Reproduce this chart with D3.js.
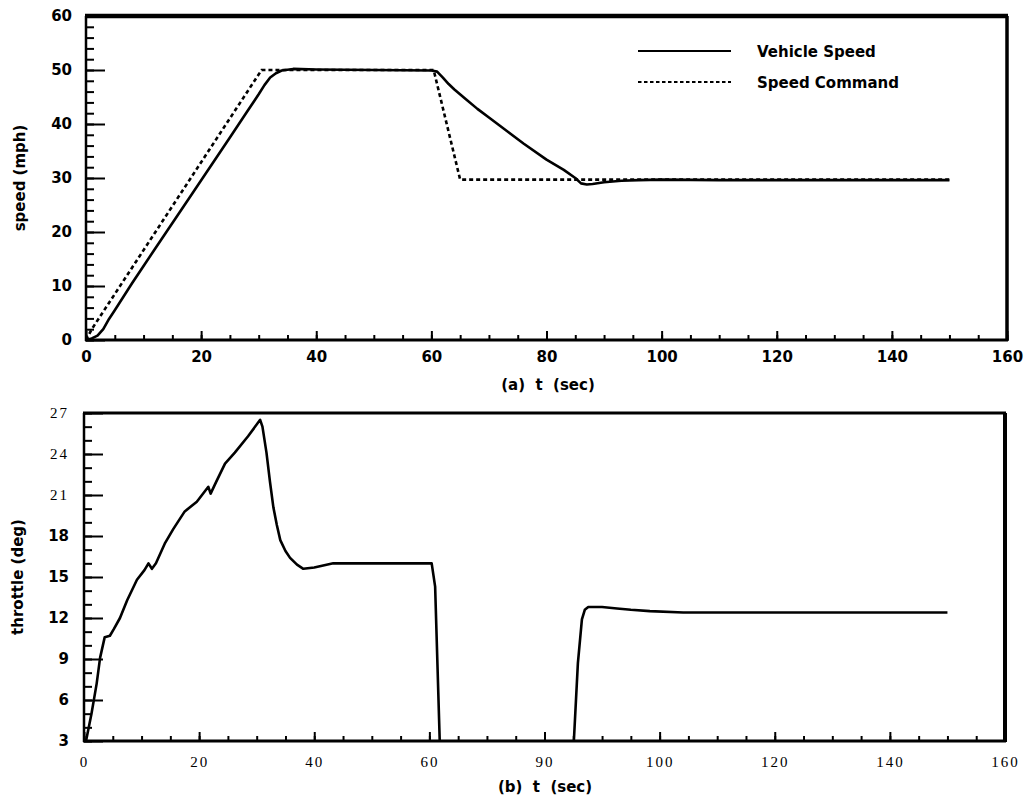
<!DOCTYPE html>
<html>
<head>
<meta charset="utf-8">
<script src="https://cdn.jsdelivr.net/npm/d3@7"></script>
<style>
  body { margin: 0; background: #fff; }
  svg { display: block; }
  .bold { font-family: "DejaVu Sans", sans-serif; font-weight: bold; }
  .serif { font-family: "Liberation Serif", "Times New Roman", serif; }
</style>
</head>
<body>
<div id="wrapper"></div>
<script>
// speed response (top plot)
const speedTime = [0, 1, 2, 3, 4, 5, 8, 12, 18, 25, 28, 30, 31, 32, 33, 34, 36, 40, 50, 60, 61, 62, 63, 64, 66, 68, 70, 73, 76, 80, 83, 85, 86, 87, 88, 90, 93, 96, 100, 110, 120, 130, 140, 150];
const vehicleSpeed = [0, 0.3, 0.8, 2, 3.9, 5.5, 10.5, 16.9, 26.4, 37.5, 42.3, 45.5, 47.2, 48.6, 49.4, 49.9, 50.2, 50.1, 50, 49.9, 49.7, 48.6, 47.4, 46.4, 44.6, 42.8, 41.2, 38.8, 36.4, 33.4, 31.5, 30, 29, 28.8, 28.9, 29.2, 29.5, 29.6, 29.7, 29.6, 29.6, 29.6, 29.6, 29.6];
const commandTime = [0, 1, 30.5, 60.4, 65, 150];
const speedCommand = [0, 2, 50, 50, 29.7, 29.7];

// throttle angle (bottom plot)
const throttleTime = [0, 0.35, 1.3, 2.2, 2.8, 3.6, 4.5, 5.2, 6.25, 7.5, 9.2, 10.5, 11.2, 11.8, 12.5, 14.1, 15.5, 17.5, 19.6, 21.6, 22, 23, 24.5, 26.2, 28.5, 30.6, 31, 31.7, 32.3, 32.9, 33.5, 34.1, 35, 35.8, 37, 38.1, 40, 43.3, 50, 60.4, 61, 61.8, 62, 84.9, 85.1, 85.8, 86.5, 87, 87.6, 90, 92.6, 95, 98.3, 104.1, 120, 150];
const throttle = [2.5, 3, 5, 7.2, 9.1, 10.6, 10.7, 11.2, 12, 13.3, 14.8, 15.5, 16, 15.6, 16, 17.5, 18.5, 19.8, 20.5, 21.6, 21.1, 22, 23.3, 24.1, 25.3, 26.5, 26, 24.1, 22, 20.1, 18.8, 17.7, 16.9, 16.4, 15.9, 15.6, 15.7, 16, 16, 16, 14.3, 3, 0, 0, 3, 8.7, 11.9, 12.6, 12.8, 12.8, 12.7, 12.6, 12.5, 12.4, 12.4, 12.4];

// ticks
const timeTicks = [0, 20, 40, 60, 80, 100, 120, 140, 160];
const throttleTimeLabels = ["0", "20", "40", "60", "90", "100", "120", "140", "160"];
const speedTicks = [0, 10, 20, 30, 40, 50, 60];
const throttleTicks = [3, 6, 9, 12, 15, 18, 21, 24, 27];

const legendItems = ["Vehicle Speed", "Speed Command"];

const svg = d3.select("#wrapper")
  .append("svg")
    .attr("width", 1029)
    .attr("height", 801);

function drawFrame(g, dims, widths) {
  const w = dims.boundedWidth, h = dims.boundedHeight;
  g.append("line").attr("x1", -1).attr("x2", w + 1).attr("y1", 0).attr("y2", 0)
    .attr("stroke", "#000").attr("stroke-width", widths.top);
  g.append("line").attr("x1", w).attr("x2", w).attr("y1", 0).attr("y2", h + 1)
    .attr("stroke", "#000").attr("stroke-width", widths.right);
  g.append("line").attr("x1", 0).attr("x2", 0).attr("y1", 0).attr("y2", h + 1)
    .attr("stroke", "#000").attr("stroke-width", widths.left);
  g.append("line").attr("x1", -1).attr("x2", w + 1).attr("y1", h).attr("y2", h)
    .attr("stroke", "#000").attr("stroke-width", widths.bottom);
}

function styleTicks(axisG) {
  axisG.select(".domain").remove();
  axisG.selectAll(".tick line").attr("stroke", "#000").attr("stroke-width", 2);
}

// ---------- top: speed ----------
const dimsA = { left: 86, top: 16, width: 921, height: 324 };
dimsA.boundedWidth = dimsA.width;
dimsA.boundedHeight = dimsA.height;

const boundsA = svg.append("g")
  .attr("transform", `translate(${dimsA.left},${dimsA.top})`);

const xA = d3.scaleLinear().domain([0, 160]).range([0, dimsA.boundedWidth]);
const yA = d3.scaleLinear().domain([0, 60]).range([dimsA.boundedHeight, 0]);

// minor ticks
boundsA.append("g")
  .attr("transform", `translate(0,${dimsA.boundedHeight})`)
  .call(d3.axisBottom(xA).tickValues(d3.range(0, 161, 5)).tickSize(-5).tickFormat(""))
  .call(styleTicks);
boundsA.append("g")
  .call(d3.axisLeft(yA).tickValues(d3.range(0, 61, 2)).tickSize(-8).tickFormat(""))
  .call(styleTicks);

const xAxisA = boundsA.append("g")
  .attr("transform", `translate(0,${dimsA.boundedHeight})`)
  .call(d3.axisBottom(xA).tickValues(timeTicks).tickSize(-9).tickPadding(11))
  .call(styleTicks);
xAxisA.selectAll("text").attr("class", "bold").attr("font-size", 15).attr("fill", "#000");

const yAxisA = boundsA.append("g")
  .call(d3.axisLeft(yA).tickValues(speedTicks).tickSize(-19).tickPadding(14))
  .call(styleTicks);
yAxisA.selectAll("text").attr("class", "bold").attr("font-size", 15).attr("fill", "#000");

drawFrame(boundsA, dimsA, { top: 4.5, right: 3.5, left: 2.5, bottom: 3 });

const lineA = d3.line()
  .x(d => xA(d[0]))
  .y(d => yA(d[1]));

boundsA.append("path")
  .attr("d", lineA(d3.zip(commandTime, speedCommand)))
  .attr("fill", "none")
  .attr("stroke", "#000")
  .attr("stroke-width", 2.6)
  .attr("stroke-dasharray", "4,3");

boundsA.append("path")
  .attr("d", lineA(d3.zip(speedTime, vehicleSpeed)))
  .attr("fill", "none")
  .attr("stroke", "#000")
  .attr("stroke-width", 2.6)
  .attr("stroke-linejoin", "round");

// legend
const legend = svg.append("g").attr("transform", "translate(638,51)");
legendItems.forEach((name, i) => {
  const row = legend.append("g").attr("transform", `translate(0,${i * 31})`);
  row.append("line")
    .attr("x1", 0).attr("x2", 93).attr("y1", 0).attr("y2", 0)
    .attr("stroke", "#000")
    .attr("stroke-width", i === 0 ? 2 : 2.2)
    .attr("stroke-dasharray", i === 0 ? null : "3.5,2.5");
  row.append("text")
    .attr("class", "bold")
    .attr("x", 119)
    .attr("y", 5.5)
    .attr("font-size", 15)
    .text(name);
});

svg.append("text")
  .attr("class", "bold")
  .attr("x", 548).attr("y", 390)
  .attr("text-anchor", "middle")
  .attr("font-size", 15)
  .style("white-space", "pre")
  .text("(a)  t  (sec)");

svg.append("text")
  .attr("class", "bold")
  .attr("transform", "translate(25,178) rotate(-90)")
  .attr("text-anchor", "middle")
  .attr("font-size", 15)
  .text("speed (mph)");

// ---------- bottom: throttle ----------
const dimsB = { left: 84, top: 413, width: 921, height: 328 };
dimsB.boundedWidth = dimsB.width;
dimsB.boundedHeight = dimsB.height;

const boundsB = svg.append("g")
  .attr("transform", `translate(${dimsB.left},${dimsB.top})`);

const xB = d3.scaleLinear().domain([0, 160]).range([0, dimsB.boundedWidth]);
const yB = d3.scaleLinear().domain([3, 27]).range([dimsB.boundedHeight, 0]);

boundsB.append("g")
  .attr("transform", `translate(0,${dimsB.boundedHeight})`)
  .call(d3.axisBottom(xB).tickValues(d3.range(0, 161, 5)).tickSize(-5).tickFormat(""))
  .call(styleTicks);
boundsB.append("g")
  .call(d3.axisLeft(yB).tickValues(d3.range(3, 28, 1)).tickSize(-8).tickFormat(""))
  .call(styleTicks);

const xAxisB = boundsB.append("g")
  .attr("transform", `translate(0,${dimsB.boundedHeight})`)
  .call(d3.axisBottom(xB).tickValues(timeTicks).tickSize(-9).tickPadding(15)
    .tickFormat((d, i) => throttleTimeLabels[i]))
  .call(styleTicks);
xAxisB.selectAll("text")
  .attr("class", "serif").attr("font-size", 15)
  .attr("letter-spacing", "2px").attr("fill", "#000");

const yAxisB = boundsB.append("g")
  .call(d3.axisLeft(yB).tickValues(throttleTicks).tickSize(-19).tickPadding(15))
  .call(styleTicks);
// upper labels of this axis are set in a plain serif face in the original
yAxisB.selectAll("text")
  .attr("class", d => d >= 21 ? "serif" : "bold")
  .attr("font-size", 15)
  .attr("letter-spacing", d => d >= 21 ? "2px" : null)
  .attr("fill", "#000");

svg.append("defs").append("clipPath")
    .attr("id", "clipB")
  .append("rect")
    .attr("x", 0).attr("y", -2)
    .attr("width", dimsB.boundedWidth)
    .attr("height", dimsB.boundedHeight + 2);

const lineB = d3.line()
  .x(d => xB(d[0]))
  .y(d => yB(d[1]));

boundsB.append("path")
  .attr("clip-path", "url(#clipB)")
  .attr("d", lineB(d3.zip(throttleTime, throttle)))
  .attr("fill", "none")
  .attr("stroke", "#000")
  .attr("stroke-width", 2.6)
  .attr("stroke-linejoin", "round");

drawFrame(boundsB, dimsB, { top: 3, right: 4, left: 2.5, bottom: 3 });

svg.append("text")
  .attr("class", "bold")
  .attr("x", 545).attr("y", 792)
  .attr("text-anchor", "middle")
  .attr("font-size", 15)
  .style("white-space", "pre")
  .text("(b)  t  (sec)");

svg.append("text")
  .attr("class", "bold")
  .attr("transform", "translate(23,577) rotate(-90)")
  .attr("text-anchor", "middle")
  .attr("font-size", 15)
  .text("throttle (deg)");
</script>
</body>
</html>
